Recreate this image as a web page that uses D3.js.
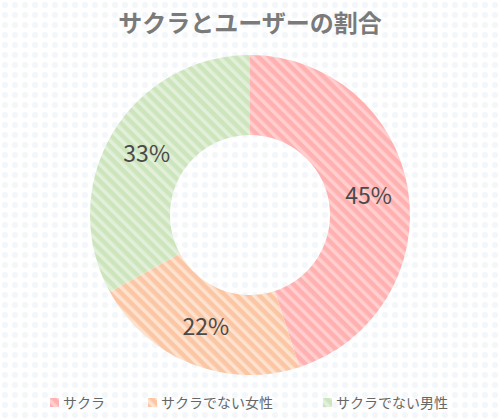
<!DOCTYPE html>
<html><head><meta charset="utf-8">
<script src="https://cdn.jsdelivr.net/npm/d3@7"></script>
<style>body{margin:0;background:#fff}</style></head>
<body><svg id="c" width="500" height="418"></svg>
<script>
const categories = ["サクラ","サクラでない女性","サクラでない男性"];
const values = [45,22,33];
const labels = ["45%","22%","33%"];
const colors = [["#ffb0b0","#ffcfcf"],["#fbc6a4","#fde2cf"],["#cde5bd","#e3f0d9"]];
const svg = d3.select("#c");
const defs = svg.append("defs");
const bgp = defs.append("pattern").attr("id","bg").attr("width",10).attr("height",10).attr("patternUnits","userSpaceOnUse");
bgp.append("rect").attr("width",10).attr("height",10).attr("fill","#fff");
bgp.append("circle").attr("cx",5).attr("cy",5).attr("r",3).attr("fill","#f3f7fa");
svg.append("rect").attr("width",500).attr("height",418).attr("fill","url(#bg)");
colors.forEach((c,i)=>{
  const p = defs.append("pattern").attr("id","p"+i).attr("width",8).attr("height",8)
    .attr("patternUnits","userSpaceOnUse").attr("patternTransform","rotate(-45)");
  p.append("rect").attr("width",8).attr("height",8).attr("fill",c[0]);
  p.append("rect").attr("width",3.5).attr("height",8).attr("fill",c[1]);
});
svg.append("text").attr("x",250).attr("y",32).attr("text-anchor","middle")
  .attr("font-family","Noto Sans CJK JP").attr("font-weight","bold").attr("font-size",24)
  .attr("fill","#7a7a7a").text("サクラとユーザーの割合");
const cx=250, cy=215, R=160, r=80;
const pie = d3.pie().sort(null).value(d=>d);
const arcs = pie(values);
const arc = d3.arc().innerRadius(r).outerRadius(R);
const g = svg.append("g").attr("transform",`translate(${cx},${cy})`);
g.selectAll("path").data(arcs).join("path").attr("d",arc).attr("fill",(d,i)=>`url(#p${i})`);
const la = d3.arc().innerRadius(120).outerRadius(120);
g.selectAll("text").data(arcs).join("text")
  .attr("transform",d=>`translate(${la.centroid(d)})`).attr("text-anchor","middle").attr("dy","0.35em")
  .attr("font-family","Noto Sans CJK JP").attr("font-size",23).attr("fill","#4a4a4a")
  .text((d,i)=>labels[i]);
const lx=[50,148,323];
const lg = svg.append("g").selectAll("g").data(categories).join("g").attr("transform",(d,i)=>`translate(${lx[i]},403)`);
lg.append("rect").attr("x",0).attr("y",-5).attr("width",9).attr("height",9).attr("fill",(d,i)=>`url(#p${i})`);
lg.append("text").attr("x",13).attr("dy","0.35em").attr("font-family","Noto Sans CJK JP").attr("font-size",14)
  .attr("fill","#666").text(d=>d);
</script></body></html>
